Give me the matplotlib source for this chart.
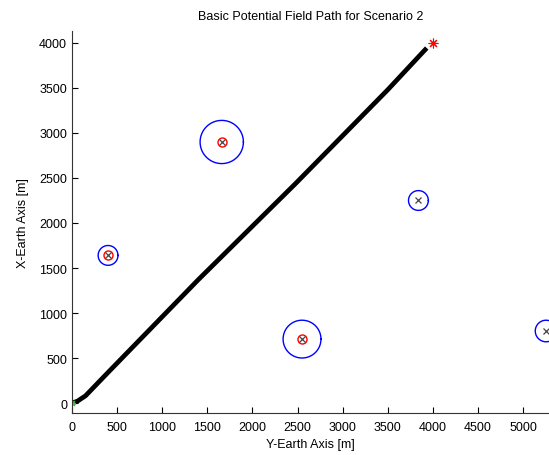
import numpy as np
import matplotlib
matplotlib.use('Agg')
import matplotlib.pyplot as plt

plt.rcParams['font.family'] = ['Liberation Sans', 'DejaVu Sans']

# obstacles: Y-Earth (east), X-Earth (north), influence radius [m]
obs_y = [1660, 400, 2550, 3840, 5255]
obs_x = [2900, 1640, 710, 2250, 800]
obs_r = [240, 110, 210, 110, 120]
obs_hit = [True, True, True, False, False]   # red ring marks

# path waypoints
path_y = [0, 60, 150, 400, 1400, 2480, 3500, 3932]
path_x = [0, 20, 80, 340, 1370, 2440, 3480, 3944]

start = (0, 0)
goal = (4000, 4000)

xticks = np.arange(0, 5001, 500)
yticks = np.arange(0, 4001, 500)

fig = plt.figure(figsize=(5.49, 4.56), dpi=100)
ax = fig.add_axes([0.1311, 0.0921, 0.869, 0.8377])

th = np.linspace(0, 2*np.pi, 200)
for y, x, r, hit in zip(obs_y, obs_x, obs_r, obs_hit):
    ax.plot(y + r*np.cos(th), x + r*np.sin(th), color='b', lw=1.0, clip_on=False)
    if hit:
        ax.plot(y, x, 'o', mfc='none', mec='r', ms=6.5, mew=1.0)
    ax.plot(y, x, 'x', color='#444444', ms=4, mew=0.9)

ax.plot(path_y, path_x, color='k', lw=3.4, solid_capstyle='butt')
ax.plot(*start, marker=(8, 2, 0), color='#33cc33', ms=5, mew=0.8)
ax.plot(*goal, marker=(8, 2, 0), color='r', ms=7, mew=0.8)

ax.set_xlim(0, 5288)
ax.set_ylim(-111, 4133)
ax.set_xticks(xticks)
ax.set_yticks(yticks)
ax.tick_params(direction='in', length=4, labelsize=9, colors='k')
ax.tick_params(axis='x', pad=6)
for s in ['top', 'right']:
    ax.spines[s].set_visible(False)
ax.spines['left'].set_color('#333333')
ax.spines['bottom'].set_color('#333333')

ax.set_xlabel('Y-Earth Axis [m]', fontsize=9, labelpad=3)
ax.set_ylabel('X-Earth Axis [m]', fontsize=9, labelpad=7)
ax.set_title('Basic Potential Field Path for Scenario 2', fontsize=9, pad=9)

fig.savefig('out.png', dpi=100)
